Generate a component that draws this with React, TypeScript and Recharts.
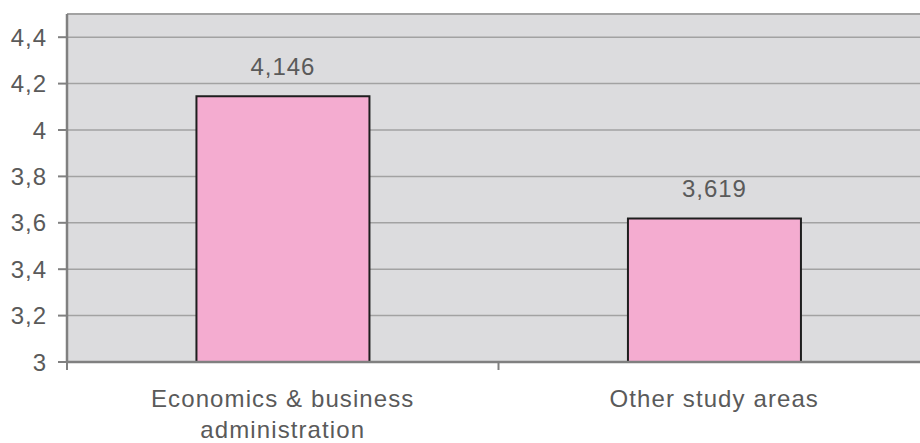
import React from "react";
import {
  BarChart,
  Bar,
  XAxis,
  YAxis,
  CartesianGrid,
  ReferenceLine,
  LabelList,
} from "recharts";

const categories = ["Economics & business\nadministration", "Other study areas"];
const scores = [4.146, 3.619];
const yTicks = [3, 3.2, 3.4, 3.6, 3.8, 4, 4.2, 4.4];
const edgeTicks = [0, 1, 2];

const data = categories.map((name, i) => ({ name, score: scores[i] }));

const textColor = "#5a5a5a";
const axisColor = "#808080";
const gridColor = "#a2a2a2";
const font = "'Liberation Sans', Arial, sans-serif";

const fmt = (v: number) => String(v).replace(".", ",");

// two-line category labels under the bars, plus the tick between categories
const CategoryTick = ({ x, y, payload, index, width, visibleTicksCount }: any) => {
  const lines = String(payload.value).split("\n");
  const band = width && visibleTicksCount ? width / visibleTicksCount : 0;
  return (
    <g>
      {index > 0 && band > 0 && (
        <line
          x1={x - band / 2}
          x2={x - band / 2}
          y1={y}
          y2={y + 8}
          stroke={axisColor}
          strokeWidth={2}
        />
      )}
      <text
        x={x}
        y={y}
        textAnchor="middle"
        fill={textColor}
        fontFamily={font}
        fontSize={24}
        letterSpacing={1.1}
      >
        {lines.map((line, i) => (
          <tspan key={i} x={x} dy={i === 0 ? 45 : 31}>
            {line}
          </tspan>
        ))}
      </text>
    </g>
  );
};

const ValueLabel = ({ x, y, width, value }: any) => (
  <text
    x={x + width / 2}
    y={y - 21}
    textAnchor="middle"
    fill={textColor}
    fontFamily={font}
    fontSize={24}
    letterSpacing={1}
  >
    {fmt(value)}
  </text>
);

export default function App() {
  return (
    <div
      style={{
        position: "absolute",
        left: 0,
        top: 0,
        width: 920,
        height: 443,
        overflow: "hidden",
        background: "#fff",
      }}
    >
      <BarChart
        width={930}
        height={443}
        data={data}
        margin={{ top: 14, right: 0, left: 0, bottom: 0 }}
        barCategoryGap="30%"
      >
        <CartesianGrid
          vertical={false}
          fill="#dcdcde"
          stroke={gridColor}
          strokeWidth={1.5}
        />
        <ReferenceLine y={4.5} stroke={gridColor} strokeWidth={2} />
        <XAxis
          dataKey="name"
          height={1}
          tickSize={0}
          tickMargin={0}
          tickLine={false}
          axisLine={{ stroke: axisColor, strokeWidth: 2.5 }}
          tick={<CategoryTick />}
          interval={0}
        />
        <XAxis
          xAxisId="edge"
          type="number"
          domain={[0, 2]}
          allowDataOverflow
          ticks={edgeTicks}
          interval={0}
          tick={() => <g />}
          tickSize={7}
          tickLine={{ stroke: axisColor, strokeWidth: 2 }}
          axisLine={false}
          height={80}
        />
        <YAxis
          width={67}
          domain={[3, 4.5]}
          ticks={yTicks}
          allowDataOverflow
          tickFormatter={fmt}
          tickSize={9}
          tickMargin={11}
          tickLine={{ stroke: axisColor, strokeWidth: 2 }}
          axisLine={{ stroke: axisColor, strokeWidth: 2.5 }}
          tick={{ fill: textColor, fontSize: 24, fontFamily: font, letterSpacing: 1 }}
        />
        <Bar
          dataKey="score"
          fill="#f4acd0"
          stroke="#1e1e1e"
          strokeWidth={2}
          isAnimationActive={false}
        >
          <LabelList dataKey="score" content={<ValueLabel />} />
        </Bar>
      </BarChart>
    </div>
  );
}
